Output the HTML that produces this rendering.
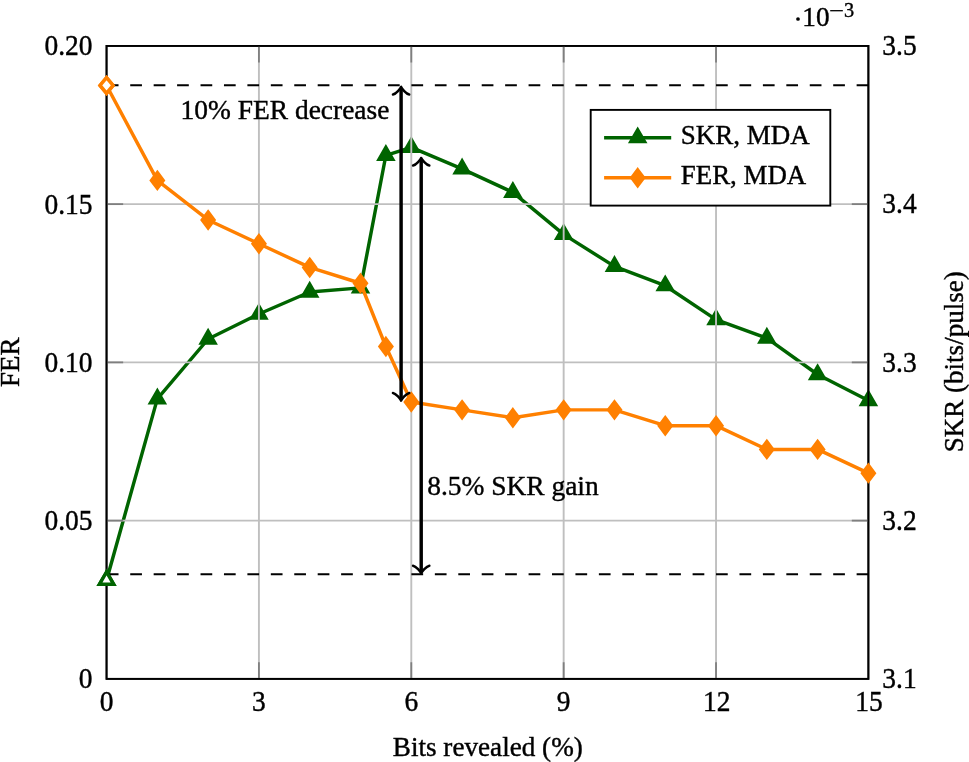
<!DOCTYPE html>
<html><head><meta charset="utf-8"><title>chart</title>
<style>html,body{margin:0;padding:0;background:#fff}svg{display:block;will-change:transform}text{font-family:"Liberation Serif",serif;fill:#000;stroke:#000;stroke-width:0.4px}</style></head><body>
<svg width="969" height="762" viewBox="0 0 969 762">
<rect width="969" height="762" fill="#fff"/>
<rect x="106.55" y="45.9" width="761.85" height="632.95" fill="none" stroke="#000" stroke-width="1.8"/>
<polyline points="106.55,580.20 157.34,398.90 208.13,339.00 258.92,314.00 309.71,292.00 360.50,287.90 385.89,155.30 411.29,147.40 462.08,168.90 512.87,192.30 563.66,234.40 614.45,266.40 665.24,285.70 716.03,319.60 766.82,338.10 817.61,374.50 868.40,400.50" fill="none" stroke="#006400" stroke-width="3.45" stroke-linejoin="round"/>
<polygon points="157.34,391.07 150.56,402.81 164.12,402.81" fill="#006400" stroke="#006400" stroke-width="3.45" stroke-linejoin="miter"/>
<polygon points="208.13,331.17 201.35,342.92 214.91,342.92" fill="#006400" stroke="#006400" stroke-width="3.45" stroke-linejoin="miter"/>
<polygon points="258.92,306.17 252.14,317.92 265.70,317.92" fill="#006400" stroke="#006400" stroke-width="3.45" stroke-linejoin="miter"/>
<polygon points="309.71,284.17 302.93,295.92 316.49,295.92" fill="#006400" stroke="#006400" stroke-width="3.45" stroke-linejoin="miter"/>
<polygon points="360.50,280.07 353.72,291.81 367.28,291.81" fill="#006400" stroke="#006400" stroke-width="3.45" stroke-linejoin="miter"/>
<polygon points="385.89,147.47 379.11,159.22 392.68,159.22" fill="#006400" stroke="#006400" stroke-width="3.45" stroke-linejoin="miter"/>
<polygon points="411.29,139.57 404.51,151.31 418.07,151.31" fill="#006400" stroke="#006400" stroke-width="3.45" stroke-linejoin="miter"/>
<polygon points="462.08,161.07 455.30,172.81 468.86,172.81" fill="#006400" stroke="#006400" stroke-width="3.45" stroke-linejoin="miter"/>
<polygon points="512.87,184.47 506.09,196.22 519.65,196.22" fill="#006400" stroke="#006400" stroke-width="3.45" stroke-linejoin="miter"/>
<polygon points="563.66,226.57 556.88,238.31 570.44,238.31" fill="#006400" stroke="#006400" stroke-width="3.45" stroke-linejoin="miter"/>
<polygon points="614.45,258.57 607.67,270.31 621.23,270.31" fill="#006400" stroke="#006400" stroke-width="3.45" stroke-linejoin="miter"/>
<polygon points="665.24,277.87 658.46,289.62 672.02,289.62" fill="#006400" stroke="#006400" stroke-width="3.45" stroke-linejoin="miter"/>
<polygon points="716.03,311.77 709.25,323.52 722.81,323.52" fill="#006400" stroke="#006400" stroke-width="3.45" stroke-linejoin="miter"/>
<polygon points="766.82,330.27 760.04,342.02 773.60,342.02" fill="#006400" stroke="#006400" stroke-width="3.45" stroke-linejoin="miter"/>
<polygon points="817.61,366.67 810.83,378.42 824.39,378.42" fill="#006400" stroke="#006400" stroke-width="3.45" stroke-linejoin="miter"/>
<polygon points="868.40,392.67 861.62,404.42 875.18,404.42" fill="#006400" stroke="#006400" stroke-width="3.45" stroke-linejoin="miter"/>
<g stroke="#bfbfbf" stroke-width="1.9" fill="none"><line x1="258.92" y1="45.9" x2="258.92" y2="678.85"/><line x1="411.29" y1="45.9" x2="411.29" y2="678.85"/><line x1="563.66" y1="45.9" x2="563.66" y2="678.85"/><line x1="716.03" y1="45.9" x2="716.03" y2="678.85"/><line x1="106.55" y1="520.61" x2="868.4" y2="520.61"/><line x1="106.55" y1="362.38" x2="868.4" y2="362.38"/><line x1="106.55" y1="204.14" x2="868.4" y2="204.14"/></g>
<g stroke="#7f7f7f" stroke-width="1.8" fill="none"><line x1="258.92" y1="45.9" x2="258.92" y2="62.5"/><line x1="258.92" y1="678.85" x2="258.92" y2="662.25"/><line x1="411.29" y1="45.9" x2="411.29" y2="62.5"/><line x1="411.29" y1="678.85" x2="411.29" y2="662.25"/><line x1="563.66" y1="45.9" x2="563.66" y2="62.5"/><line x1="563.66" y1="678.85" x2="563.66" y2="662.25"/><line x1="716.03" y1="45.9" x2="716.03" y2="62.5"/><line x1="716.03" y1="678.85" x2="716.03" y2="662.25"/><line x1="106.55" y1="520.61" x2="123.15" y2="520.61"/><line x1="868.4" y1="520.61" x2="851.8" y2="520.61"/><line x1="106.55" y1="362.38" x2="123.15" y2="362.38"/><line x1="868.4" y1="362.38" x2="851.8" y2="362.38"/><line x1="106.55" y1="204.14" x2="123.15" y2="204.14"/><line x1="868.4" y1="204.14" x2="851.8" y2="204.14"/></g>
<rect x="106.55" y="45.9" width="761.85" height="632.95" fill="none" stroke="#000" stroke-width="1.8"/>
<polyline points="106.55,85.46 157.34,180.40 208.13,219.96 258.92,243.70 309.71,267.43 360.50,283.26 385.89,346.55 411.29,401.93 462.08,409.85 512.87,417.76 563.66,409.85 614.45,409.85 665.24,425.67 716.03,425.67 766.82,449.41 817.61,449.41 868.40,473.14" fill="none" stroke="#ff8000" stroke-width="3.45" stroke-linejoin="round"/>
<polygon points="157.34,172.57 163.21,180.40 157.34,188.23 151.47,180.40" fill="#ff8000" stroke="#ff8000" stroke-width="3.45" stroke-linejoin="miter"/>
<polygon points="208.13,212.13 214.00,219.96 208.13,227.79 202.26,219.96" fill="#ff8000" stroke="#ff8000" stroke-width="3.45" stroke-linejoin="miter"/>
<polygon points="258.92,235.87 264.79,243.70 258.92,251.53 253.05,243.70" fill="#ff8000" stroke="#ff8000" stroke-width="3.45" stroke-linejoin="miter"/>
<polygon points="309.71,259.60 315.58,267.43 309.71,275.26 303.84,267.43" fill="#ff8000" stroke="#ff8000" stroke-width="3.45" stroke-linejoin="miter"/>
<polygon points="360.50,275.43 366.37,283.26 360.50,291.09 354.63,283.26" fill="#ff8000" stroke="#ff8000" stroke-width="3.45" stroke-linejoin="miter"/>
<polygon points="385.89,338.72 391.77,346.55 385.89,354.38 380.02,346.55" fill="#ff8000" stroke="#ff8000" stroke-width="3.45" stroke-linejoin="miter"/>
<polygon points="411.29,394.10 417.16,401.93 411.29,409.76 405.42,401.93" fill="#ff8000" stroke="#ff8000" stroke-width="3.45" stroke-linejoin="miter"/>
<polygon points="462.08,402.02 467.95,409.85 462.08,417.68 456.21,409.85" fill="#ff8000" stroke="#ff8000" stroke-width="3.45" stroke-linejoin="miter"/>
<polygon points="512.87,409.93 518.74,417.76 512.87,425.59 507.00,417.76" fill="#ff8000" stroke="#ff8000" stroke-width="3.45" stroke-linejoin="miter"/>
<polygon points="563.66,402.02 569.53,409.85 563.66,417.68 557.79,409.85" fill="#ff8000" stroke="#ff8000" stroke-width="3.45" stroke-linejoin="miter"/>
<polygon points="614.45,402.02 620.32,409.85 614.45,417.68 608.58,409.85" fill="#ff8000" stroke="#ff8000" stroke-width="3.45" stroke-linejoin="miter"/>
<polygon points="665.24,417.84 671.11,425.67 665.24,433.50 659.37,425.67" fill="#ff8000" stroke="#ff8000" stroke-width="3.45" stroke-linejoin="miter"/>
<polygon points="716.03,417.84 721.90,425.67 716.03,433.50 710.16,425.67" fill="#ff8000" stroke="#ff8000" stroke-width="3.45" stroke-linejoin="miter"/>
<polygon points="766.82,441.58 772.69,449.41 766.82,457.24 760.95,449.41" fill="#ff8000" stroke="#ff8000" stroke-width="3.45" stroke-linejoin="miter"/>
<polygon points="817.61,441.58 823.48,449.41 817.61,457.24 811.74,449.41" fill="#ff8000" stroke="#ff8000" stroke-width="3.45" stroke-linejoin="miter"/>
<polygon points="868.40,465.31 874.27,473.14 868.40,480.97 862.53,473.14" fill="#ff8000" stroke="#ff8000" stroke-width="3.45" stroke-linejoin="miter"/>
<polygon points="106.55,572.00 99.45,584.30 113.65,584.30" fill="#fff" stroke="#006400" stroke-width="3.45" stroke-linejoin="miter"/>
<polygon points="106.55,77.71 113.06,85.46 106.55,93.21 100.04,85.46" fill="#fff" stroke="#ff8000" stroke-width="3.45" stroke-linejoin="miter"/>
<line x1="106.8" y1="85.3" x2="868.4" y2="85.3" stroke="#000" stroke-width="1.9" stroke-dasharray="11.716 11.716"/>
<line x1="106.8" y1="574.3" x2="868.4" y2="574.3" stroke="#000" stroke-width="1.9" stroke-dasharray="11.716 11.716"/>
<polygon points="106.55,572.00 99.45,584.30 113.65,584.30" fill="#fff" stroke="#006400" stroke-width="3.45" stroke-linejoin="miter"/>
<polygon points="106.55,77.71 113.06,85.46 106.55,93.21 100.04,85.46" fill="#fff" stroke="#ff8000" stroke-width="3.45" stroke-linejoin="miter"/>
<line x1="401.1" y1="88.38" x2="401.1" y2="399.12" stroke="#000" stroke-width="3.45"/><path d="M-6.111,8.148 C-5.602,5.092 0,0.509 1.528,0 C0,-0.509 -5.602,-5.092 -6.111,-8.148" fill="none" stroke="#000" stroke-width="2.5" stroke-linecap="round" stroke-linejoin="round" transform="translate(401.1,88.38) rotate(-90)"/><path d="M-6.111,8.148 C-5.602,5.092 0,0.509 1.528,0 C0,-0.509 -5.602,-5.092 -6.111,-8.148" fill="none" stroke="#000" stroke-width="2.5" stroke-linecap="round" stroke-linejoin="round" transform="translate(401.1,399.12) rotate(90)"/>
<line x1="421.2" y1="159.48" x2="421.2" y2="571.87" stroke="#000" stroke-width="3.45"/><path d="M-6.111,8.148 C-5.602,5.092 0,0.509 1.528,0 C0,-0.509 -5.602,-5.092 -6.111,-8.148" fill="none" stroke="#000" stroke-width="2.5" stroke-linecap="round" stroke-linejoin="round" transform="translate(421.2,159.48) rotate(-90)"/><path d="M-6.111,8.148 C-5.602,5.092 0,0.509 1.528,0 C0,-0.509 -5.602,-5.092 -6.111,-8.148" fill="none" stroke="#000" stroke-width="2.5" stroke-linecap="round" stroke-linejoin="round" transform="translate(421.2,571.87) rotate(90)"/>
<text x="180.6" y="118.5" text-anchor="start" font-size="27.45">10% FER decrease</text>
<text x="427.2" y="495.4" text-anchor="start" font-size="27.45">8.5% SKR gain</text>
<text transform="translate(92.5,55.40) scale(1,1.055)" text-anchor="end" font-size="27.45">0.20</text>
<text transform="translate(92.5,213.64) scale(1,1.055)" text-anchor="end" font-size="27.45">0.15</text>
<text transform="translate(92.5,371.88) scale(1,1.055)" text-anchor="end" font-size="27.45">0.10</text>
<text transform="translate(92.5,530.11) scale(1,1.055)" text-anchor="end" font-size="27.45">0.05</text>
<text transform="translate(92.5,688.35) scale(1,1.055)" text-anchor="end" font-size="27.45">0</text>
<text transform="translate(882.3,55.20) scale(1,1.055)" text-anchor="start" font-size="27.45">3.5</text>
<text transform="translate(882.3,213.44) scale(1,1.055)" text-anchor="start" font-size="27.45">3.4</text>
<text transform="translate(882.3,371.68) scale(1,1.055)" text-anchor="start" font-size="27.45">3.3</text>
<text transform="translate(882.3,529.91) scale(1,1.055)" text-anchor="start" font-size="27.45">3.2</text>
<text transform="translate(882.3,688.15) scale(1,1.055)" text-anchor="start" font-size="27.45">3.1</text>
<text transform="translate(106.55,710.8) scale(1,1.055)" text-anchor="middle" font-size="27.45">0</text>
<text transform="translate(258.92,710.8) scale(1,1.055)" text-anchor="middle" font-size="27.45">3</text>
<text transform="translate(411.29,710.8) scale(1,1.055)" text-anchor="middle" font-size="27.45">6</text>
<text transform="translate(563.66,710.8) scale(1,1.055)" text-anchor="middle" font-size="27.45">9</text>
<text transform="translate(716.83,710.8) scale(1,1.055)" text-anchor="middle" font-size="27.45">12</text>
<text transform="translate(868.90,710.8) scale(1,1.055)" text-anchor="middle" font-size="27.45">15</text>
<circle cx="798.0" cy="19.0" r="1.85" fill="#000"/>
<text x="802.3" y="26.3" font-size="27.2">10</text>
<line x1="830.2" y1="10.7" x2="842.85" y2="10.7" stroke="#000" stroke-width="1.3"/>
<text x="849.05" y="16.6" font-size="20.3" text-anchor="middle">3</text>
<text x="487.8" y="756.0" text-anchor="middle" font-size="27.45" textLength="190.0" lengthAdjust="spacingAndGlyphs">Bits revealed (%)</text>
<text transform="translate(18.7,362.2) rotate(-90)" text-anchor="middle" font-size="27">FER</text>
<text transform="translate(963,361.8) rotate(-90)" text-anchor="middle" font-size="27" textLength="181" lengthAdjust="spacingAndGlyphs">SKR (bits/pulse)</text>
<rect x="590.7" y="109.9" width="239.60" height="95.70" fill="#fff" stroke="#000" stroke-width="1.9"/>
<line x1="604.1" y1="137.7" x2="671.2" y2="137.7" stroke="#006400" stroke-width="3.45"/>
<polygon points="637.70,129.87 630.92,141.61 644.48,141.61" fill="#006400" stroke="#006400" stroke-width="3.45" stroke-linejoin="miter"/>
<line x1="604.1" y1="177.8" x2="671.2" y2="177.8" stroke="#ff8000" stroke-width="3.45"/>
<polygon points="637.70,169.97 643.57,177.80 637.70,185.63 631.83,177.80" fill="#ff8000" stroke="#ff8000" stroke-width="3.45" stroke-linejoin="miter"/>
<text x="680.8" y="143.9" text-anchor="start" font-size="27.45" textLength="128.9" lengthAdjust="spacingAndGlyphs">SKR, MDA</text>
<text x="680.8" y="184.1" text-anchor="start" font-size="27.45" textLength="125.4" lengthAdjust="spacingAndGlyphs">FER, MDA</text>
</svg></body></html>
